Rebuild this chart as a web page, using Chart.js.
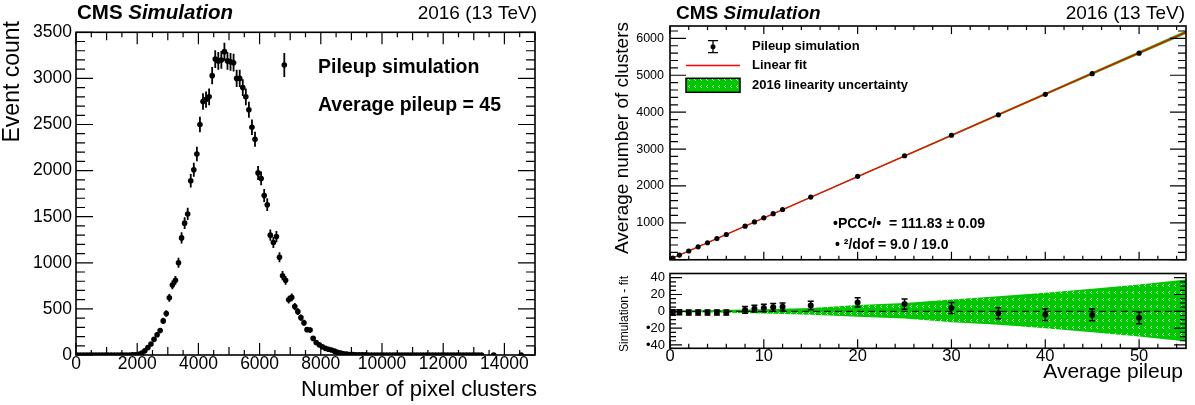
<!DOCTYPE html>
<html><head><meta charset="utf-8">
<script src="https://cdn.jsdelivr.net/npm/chart.js@4.4.0/dist/chart.umd.min.js"></script>
<style>
html,body{margin:0;padding:0;background:#fff;}
#wrap{position:relative;width:1195px;height:405px;overflow:hidden;background:#fff;}
canvas{position:absolute;display:block;}
</style></head><body>
<div id="wrap">
<canvas id="cl" width="560" height="405" style="left:0;top:0"></canvas>
<canvas id="cm" width="635" height="272" style="left:560px;top:0"></canvas>
<canvas id="cr" width="635" height="143" style="left:560px;top:262px"></canvas>
</div>
<script>
// ---------------- DATA ----------------
// Left: pixel-cluster histogram (bin width 100, starting at 0)
const binLow = 0, binWidth = 100;
const eventCounts = [
0,0,0,0,0,0,0,0,0,0,0,0,0,0,0,0,0,0,1,3,
8,20,45,80,120,170,220,265,370,450,620,760,810,1000,1270,1430,1530,1890,2010,2180,
2500,2750,2770,2800,3030,3210,3190,3200,3290,3190,3180,3170,3000,3000,2900,2800,2660,2470,2340,1975,
1915,1730,1630,1300,1220,1285,1060,860,810,600,625,525,470,405,350,275,270,180,135,110,
90,72,62,54,42,30,20,14,9,6,4,3,2,1,1,
0,0,0,0,0,0,0,0,0,0,0,0,0,0,0,0,0,0,0,0,0,0,0,0,0,0,0,0,0,0,0,0,0,0,0,0,0,0,
null,null,null,0,null,null,null,null,null,null,null,null,0,null,null,null,null];
const eventErrors = [
0,0,0,0,0,0,0,0,0,0,0,0,0,0,0,0,0,0,2,3,
5,8,11,15,19,22,25,28,33,36,42,47,48,54,61,64,66,74,76,79,
85,89,89,90,94,96,96,96,98,96,96,96,93,93,92,90,88,85,82,76,
74,71,69,61,59,61,55,50,48,42,43,39,37,34,32,28,28,23,20,18,
16,14,13,12,11,9,8,6,5,4,3,3,2,2,2,
0,0,0,0,0,0,0,0,0,0,0,0,0,0,0,0,0,0,0,0,0,0,0,0,0,0,0,0,0,0,0,0,0,0,0,0,0,0,
null,null,null,0,null,null,null,null,null,null,null,null,0,null,null,null,null];
const leftXTicks = [0,2000,4000,6000,8000,10000,12000,14000];
const leftYTicks = [0,500,1000,1500,2000,2500,3000,3500];

// Right: average clusters vs pileup
const pileup    = [0.3,1,2,3,4,5,6,8,9,10,11,12,15,20,25,30,35,40,45,50];
const clusters  = [48,126,237,349,461,573,684,911,1025,1137,1250,1362,1699,2262,2819,3374,3927,4484,5043,5599];
const residual  = [-1.2,-1,-1.5,-1.5,-1.5,-1.5,-1.5,1.6,3.1,3.9,4.7,5.4,7,10.5,8.6,3.9,-2.3,-3.9,-4.3,-7.7];
const resErr    = [3,3,3,3,3,3,3,4,4,4.5,4.5,4.5,5,5.5,6,6.5,6.5,7,7,7];
const fitX = [0,55];
const fitY = [15,6166];
const bandX   = [0,5,10,15,20,25,30,35,40,45,50,55];
const bandUp  = [1,1.5,2.5,4,7.5,10,14,18,22,27,32,38];
const bandLow = [-1,-1.5,-2.5,-4,-6.5,-8.5,-13,-16,-20,-25,-30,-36];
const mainYTicks = [1000,2000,3000,4000,5000,6000];
const resXTicks = [0,10,20,30,40,50];
const resYTicks = [-40,-20,0,20,40];

// ---------------- HELPERS ----------------
const FONT = "'Liberation Sans', Arial, Helvetica, sans-serif";
function setTicks(list){ return s => { s.ticks = list.map(v => ({value:v})); }; }
const plainLabel = v => String(v);
function txt(ctx, s, x, y, font, align, base){
  ctx.font = font; ctx.fillStyle = '#000';
  ctx.textAlign = align || 'left'; ctx.textBaseline = base || 'middle';
  ctx.fillText(s, x, y);
}
function vtxt(ctx, s, x, y, font, align){
  ctx.save(); ctx.translate(x, y); ctx.rotate(-Math.PI/2);
  txt(ctx, s, 0, 0, font, align, 'middle'); ctx.restore();
}
function cms(ctx, x, y, size){
  ctx.font = `bold ${size}px ${FONT}`; ctx.fillStyle='#000';
  ctx.textAlign='left'; ctx.textBaseline='middle';
  ctx.fillText('CMS ', x, y);
  const w = ctx.measureText('CMS ').width;
  ctx.font = `italic bold ${size}px ${FONT}`;
  ctx.fillText('Simulation', x + w, y);
}
function frameTicks(ch, cfg){
  const ctx = ch.ctx, a = ch.chartArea, xs = ch.scales.x, ys = ch.scales.y;
  ctx.save(); ctx.strokeStyle = '#000'; ctx.lineWidth = 1.2; ctx.beginPath();
  for (const t of cfg.x) {
    const n0 = Math.ceil(xs.min / t.step - 1e-9), n1 = Math.floor(xs.max / t.step + 1e-9);
    for (let n = n0; n <= n1; n++) {
      const p = xs.getPixelForValue(n * t.step);
      if (t.sides.includes('b')) { ctx.moveTo(p, a.bottom); ctx.lineTo(p, a.bottom - t.len); }
      if (t.sides.includes('t')) { ctx.moveTo(p, a.top); ctx.lineTo(p, a.top + t.len); }
    }
  }
  for (const t of cfg.y) {
    const n0 = Math.ceil(ys.min / t.step - 1e-9), n1 = Math.floor(ys.max / t.step + 1e-9);
    for (let n = n0; n <= n1; n++) {
      const p = ys.getPixelForValue(n * t.step);
      if (t.sides.includes('l')) { ctx.moveTo(a.left, p); ctx.lineTo(a.left + t.len, p); }
      if (t.sides.includes('r')) { ctx.moveTo(a.right, p); ctx.lineTo(a.right - t.len, p); }
    }
  }
  ctx.stroke();
  ctx.lineWidth = 1.6;
  ctx.strokeRect(a.left, a.top, a.right - a.left, a.bottom - a.top);
  ctx.restore();
}
const errorBars = {
  id: 'errorBars',
  afterDatasetsDraw(ch){
    const ctx = ch.ctx, ys = ch.scales.y, a = ch.chartArea;
    ctx.save();
    ctx.beginPath(); ctx.rect(a.left, a.top, a.right - a.left, a.bottom - a.top); ctx.clip();
    ch.data.datasets.forEach((ds, di) => {
      if (!ds.errs) return;
      const meta = ch.getDatasetMeta(di);
      ctx.strokeStyle = '#000'; ctx.lineWidth = ds.errWidth || 1.5;
      ctx.beginPath();
      meta.data.forEach((el, i) => {
        const e = ds.errs[i]; if (!e) return;
        const v = ds.data[i].y;
        const y1 = ys.getPixelForValue(v + e), y2 = ys.getPixelForValue(v - e);
        ctx.moveTo(el.x, y1); ctx.lineTo(el.x, y2);
        if (ds.cap) {
          ctx.moveTo(el.x - ds.cap, y1); ctx.lineTo(el.x + ds.cap, y1);
          ctx.moveTo(el.x - ds.cap, y2); ctx.lineTo(el.x + ds.cap, y2);
        }
      });
      ctx.stroke();
    });
    ctx.restore();
  }
};
function hiddenGrid(){ return {display:false, drawTicks:false}; }
function tickFont(size){ return {family: FONT, size: size, lineHeight: 1}; }
function makePattern(){
  const c = document.createElement('canvas'); c.width = 6; c.height = 7;
  const g = c.getContext('2d');
  g.fillStyle = '#00c800'; g.fillRect(0,0,6,7);
  g.fillStyle = 'rgba(225,255,225,0.9)';
  g.fillRect(3,1,1,1); g.fillRect(2,2,1,1); g.fillRect(3,3,1,1);
  return g.createPattern(c, 'repeat');
}
const bandPattern = makePattern();

// ---------------- LEFT CHART ----------------
const histPts = [], histErr = [];
eventCounts.forEach((c, i) => {
  if (c === null) return;
  histPts.push({x: binLow + (i + 0.5) * binWidth, y: c});
  histErr.push(eventErrors[i]);
});
const leftDeco = {
  id: 'leftDeco',
  afterDraw(ch){
    const ctx = ch.ctx;
    frameTicks(ch, {
      x: [{step:2000,len:12,sides:'bt'},{step:1000,len:8,sides:'bt'},{step:500,len:5,sides:'bt'}],
      y: [{step:500,len:17,sides:'lr'},{step:100,len:9,sides:'lr'}]
    });
    cms(ctx, 77, 13.5, 20.5);
    txt(ctx, '2016 (13 TeV)', 537, 13.5, `19px ${FONT}`, 'right');
    vtxt(ctx, 'Event count', 13, 21, `23px ${FONT}`, 'right');
    txt(ctx, 'Number of pixel clusters', 537, 390, `22px ${FONT}`, 'right');
    // legend
    ctx.save(); ctx.strokeStyle='#000'; ctx.lineWidth=1.8;
    ctx.beginPath(); ctx.moveTo(284.3, 53); ctx.lineTo(284.3, 77); ctx.stroke();
    ctx.fillStyle='#000'; ctx.beginPath(); ctx.arc(284.3, 65, 2.8, 0, Math.PI*2); ctx.fill();
    ctx.restore();
    txt(ctx, 'Pileup simulation', 318, 68, `bold 19.5px ${FONT}`);
    txt(ctx, 'Average pileup = 45', 318, 106, `bold 19.5px ${FONT}`);
  }
};
new Chart(document.getElementById('cl'), {
  type: 'scatter',
  data: { datasets: [{ data: histPts, errs: histErr, errWidth: 1.8,
    pointRadius: 2.8, pointBackgroundColor: '#000', pointBorderWidth: 0, showLine: false }] },
  options: {
    responsive: false, animation: false, events: [],
    layout: { padding: { left: 0, right: 25, top: 32.3, bottom: 0 } },
    plugins: { legend: {display:false}, tooltip: {enabled:false} },
    scales: {
      x: { type:'linear', min:0, max:15000, afterBuildTicks: setTicks(leftXTicks),
           afterFit: s => { s.height = 50; }, grid: hiddenGrid(), border:{display:false},
           ticks: { autoSkip:false, maxRotation:0, padding:0, color:'#000', font: tickFont(17.5), callback: plainLabel } },
      y: { type:'linear', min:0, max:3500, afterBuildTicks: setTicks(leftYTicks),
           afterFit: s => { s.width = 76; }, grid: hiddenGrid(), border:{display:false},
           ticks: { autoSkip:false, padding:4, color:'#000', font: tickFont(17.5), callback: plainLabel } }
    }
  },
  plugins: [errorBars, leftDeco]
});

// ---------------- RIGHT MAIN CHART ----------------
const mainPts = pileup.map((p, i) => ({x: p, y: clusters[i]}));
const fitPts = fitX.map((x, i) => ({x: x, y: fitY[i]}));
// uncertainty band around the linear fit (same band as in the ratio pad, in clusters)
const fitAt = x => fitY[0] + (fitY[1] - fitY[0]) * (x - fitX[0]) / (fitX[1] - fitX[0]);
const mainUp = bandX.map((x, i) => ({x: x, y: fitAt(x) + bandUp[i]}));
const mainLow = bandX.map((x, i) => ({x: x, y: fitAt(x) + bandLow[i]}));
const mainDeco = {
  id: 'mainDeco',
  afterDraw(ch){
    const ctx = ch.ctx;
    frameTicks(ch, {
      x: [{step:10,len:8,sides:'bt'},{step:2,len:4,sides:'bt'}],
      y: [{step:1000,len:16,sides:'lr'},{step:200,len:8,sides:'lr'}]
    });
    cms(ctx, 116, 14, 19);
    txt(ctx, '2016 (13 TeV)', 625, 14, `19px ${FONT}`, 'right');
    vtxt(ctx, 'Average number of clusters', 63, 22, `19px ${FONT}`, 'right');
    // legend
    ctx.save(); ctx.strokeStyle = '#000'; ctx.lineWidth = 1.3; ctx.beginPath();
    ctx.moveTo(153, 40.7); ctx.lineTo(153, 52.7);
    ctx.moveTo(148, 40.7); ctx.lineTo(158, 40.7);
    ctx.moveTo(148, 52.7); ctx.lineTo(158, 52.7);
    ctx.stroke();
    ctx.fillStyle = '#000'; ctx.beginPath(); ctx.arc(153, 46.7, 2.5, 0, Math.PI*2); ctx.fill();
    ctx.strokeStyle = '#ff0000'; ctx.lineWidth = 1.5; ctx.beginPath();
    ctx.moveTo(126, 65.5); ctx.lineTo(180, 65.5); ctx.stroke();
    ctx.fillStyle = bandPattern; ctx.fillRect(126, 78.3, 54, 14);
    ctx.strokeStyle = '#000'; ctx.lineWidth = 1.5; ctx.strokeRect(126, 78.3, 54, 14);
    ctx.restore();
    const lf = `bold 13px ${FONT}`;
    txt(ctx, 'Pileup simulation', 192, 46.5, lf);
    txt(ctx, 'Linear fit', 192, 65.5, lf);
    txt(ctx, '2016 linearity uncertainty', 192, 85.5, lf);
    txt(ctx, '\u2022PCC\u2022/\u2022  = 111.83 \u00b1 0.09', 273, 224.5, `bold 14px ${FONT}`);
    txt(ctx, '\u2022 \u00b2/dof = 9.0 / 19.0', 275, 245.5, `bold 14px ${FONT}`);
  }
};
new Chart(document.getElementById('cm'), {
  type: 'scatter',
  data: { datasets: [
    { data: mainPts, errs: resErr, cap: 0, pointRadius: 2.6, pointBackgroundColor:'#000', pointBorderWidth:0, showLine:false, order:0 },
    { data: fitPts, showLine:true, pointRadius:0, borderColor:'#ff0000', borderWidth:1.4, order:1 },
    { data: mainUp, showLine:true, pointRadius:0, borderColor:'#00c800', borderWidth:0.8, backgroundColor:'#00c800', fill:'+1', order:2 },
    { data: mainLow, showLine:true, pointRadius:0, borderColor:'#00c800', borderWidth:0.8, fill:false, order:3 }
  ] },
  options: {
    responsive:false, animation:false, events: [],
    layout: { padding: { left:0, right:9, top:26, bottom:0 } },
    plugins: { legend:{display:false}, tooltip:{enabled:false}, filler:{propagate:false} },
    scales: {
      x: { type:'linear', min:0, max:55, display:false },
      y: { type:'linear', min:0, max:6335, afterBuildTicks: setTicks(mainYTicks),
           afterFit: s => { s.width = 110; }, grid: hiddenGrid(), border:{display:false},
           ticks: { autoSkip:false, padding:6, color:'#000', font: tickFont(12.5), callback: plainLabel } }
    }
  },
  plugins: [errorBars, mainDeco]
});

// ---------------- RESIDUAL CHART ----------------
const resPts = pileup.map((p, i) => ({x: p, y: residual[i]}));
const upPts = bandX.map((x, i) => ({x: x, y: bandUp[i]}));
const lowPts = bandX.map((x, i) => ({x: x, y: bandLow[i]}));
const resDeco = {
  id: 'resDeco',
  afterDraw(ch){
    const ctx = ch.ctx;
    frameTicks(ch, {
      x: [{step:10,len:9,sides:'b'},{step:2,len:4.5,sides:'b'}],
      y: [{step:20,len:12,sides:'lr'},{step:5,len:6,sides:'lr'}]
    });
    vtxt(ctx, 'Simulation - fit', 65, 52, `12px ${FONT}`, 'center');
    txt(ctx, 'Average pileup', 623, 110, `21px ${FONT}`, 'right');
  }
};
new Chart(document.getElementById('cr'), {
  type: 'scatter',
  data: { datasets: [
    { data: resPts, errs: resErr, cap: 3, errWidth: 1.5, pointRadius: 3, pointBackgroundColor:'#000', pointBorderWidth:0, showLine:false, order:0 },
    { data: [{x:0,y:0},{x:55,y:0}], showLine:true, pointRadius:0, borderColor:'#000', borderWidth:1, borderDash:[7,4], order:1 },
    { data: upPts, showLine:true, pointRadius:0, borderWidth:0, borderColor:'rgba(0,0,0,0)', backgroundColor: bandPattern, fill:'+1', order:2 },
    { data: lowPts, showLine:true, pointRadius:0, borderWidth:0, borderColor:'rgba(0,0,0,0)', fill:false, order:3 }
  ] },
  options: {
    responsive:false, animation:false, events: [],
    layout: { padding: { left:0, right:9, top:10, bottom:0 } },
    plugins: { legend:{display:false}, tooltip:{enabled:false}, filler:{propagate:false} },
    scales: {
      x: { type:'linear', min:0, max:55, afterBuildTicks: setTicks(resXTicks),
           afterFit: s => { s.height = 56.7; }, grid: hiddenGrid(), border:{display:false},
           ticks: { autoSkip:false, maxRotation:0, padding:0, color:'#000', font: tickFont(16.5), callback: plainLabel } },
      y: { type:'linear', min:-44, max:45, afterBuildTicks: setTicks(resYTicks),
           afterFit: s => { s.width = 110; }, grid: hiddenGrid(), border:{display:false},
           ticks: { autoSkip:false, padding:5, color:'#000', font: tickFont(13),
                    callback: v => v < 0 ? '\u2022' + Math.abs(v) : String(v) } }
    }
  },
  plugins: [errorBars, resDeco]
});
</script>
</body></html>
